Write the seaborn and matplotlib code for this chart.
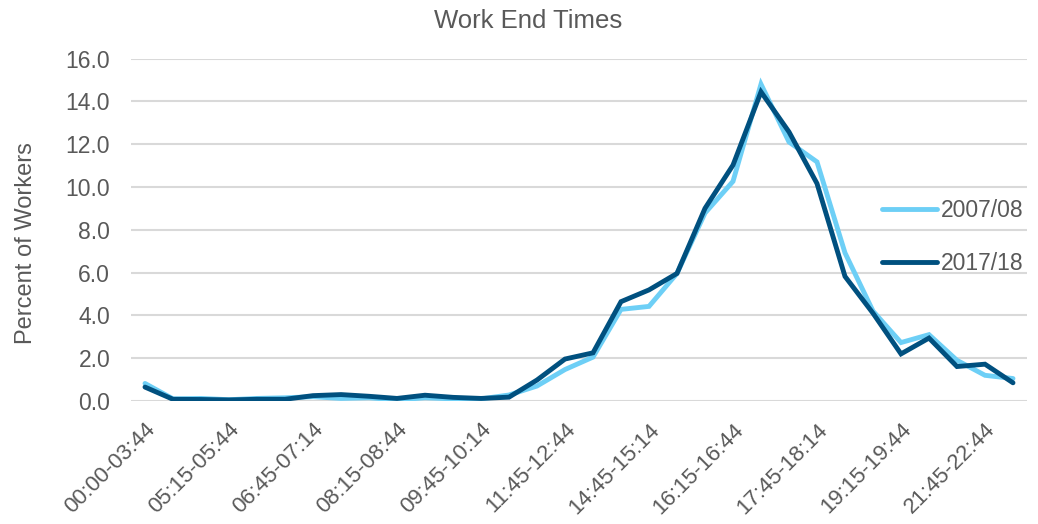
import matplotlib
matplotlib.use("Agg")
import matplotlib.pyplot as plt
import seaborn as sns
import pandas as pd

categories = [
    "00:00-03:44", "03:45-04:44", "04:45-05:14", "05:15-05:44", "05:45-06:14",
    "06:15-06:44", "06:45-07:14", "07:15-07:44", "07:45-08:14", "08:15-08:44",
    "08:45-09:14", "09:15-09:44", "09:45-10:14", "10:15-10:44", "10:45-11:44",
    "11:45-12:44", "12:45-13:44", "13:45-14:44", "14:45-15:14", "15:15-15:44",
    "15:45-16:14", "16:15-16:44", "16:45-17:14", "17:15-17:44", "17:45-18:14",
    "18:15-18:44", "18:45-19:14", "19:15-19:44", "19:45-20:44", "20:45-21:44",
    "21:45-22:44", "22:45-23:59",
]
series_2007 = [0.82, 0.10, 0.12, 0.06, 0.12, 0.15, 0.20, 0.12, 0.15, 0.05,
               0.15, 0.10, 0.10, 0.28, 0.70, 1.47, 2.05, 4.28, 4.42, 5.96,
               8.78, 10.26, 14.80, 12.10, 11.17, 6.92, 4.20, 2.73, 3.10, 1.90,
               1.20, 1.05]
series_2017 = [0.65, 0.08, 0.07, 0.05, 0.08, 0.08, 0.25, 0.30, 0.22, 0.12,
               0.27, 0.17, 0.12, 0.18, 0.98, 1.96, 2.25, 4.64, 5.19, 5.96,
               9.00, 11.02, 14.44, 12.57, 10.16, 5.82, 4.10, 2.20, 2.94, 1.61,
               1.72, 0.85]
series_names = ["2007/08", "2017/18"]
yticks = [0, 2, 4, 6, 8, 10, 12, 14, 16]

df = pd.DataFrame({
    "pos": list(range(len(categories))) * 2,
    "Time": categories * 2,
    "Percent": series_2007 + series_2017,
    "Year": [series_names[0]] * len(categories) + [series_names[1]] * len(categories),
})

sns.set_theme(style="white")
plt.rcParams["font.family"] = ["Liberation Sans", "DejaVu Sans"]
text_color = "#595959"

fig = plt.figure(figsize=(10.38, 5.24), dpi=100)
ax = fig.add_axes([131 / 1038, 1 - 401 / 524, (1027 - 131) / 1038, (401 - 58.5) / 524])

sns.lineplot(data=df, x="pos", y="Percent", hue="Year", sort=False,
             palette={"2007/08": "#6DCFF6", "2017/18": "#00507F"},
             linewidth=3.5, ax=ax, legend=True)
for ln in ax.get_lines():
    ln.set_solid_capstyle("round")
    ln.set_solid_joinstyle("miter")

ax.set_xlim(-0.5, len(categories) - 0.5)
ax.set_ylim(0, 16)
ax.set_yticks(yticks)
ax.set_yticklabels([f"{v:.1f}" for v in yticks], fontsize=16.5, color=text_color)
ax.yaxis.grid(True, color="#D9D9D9", linewidth=1.5)
ax.xaxis.grid(False)
ax.set_axisbelow(True)
idx = list(range(0, len(categories), 3))
ax.set_xticks(idx)
ax.set_xticklabels([categories[i] for i in idx], rotation=45, ha="right",
                   rotation_mode="anchor", fontsize=16, color=text_color)
ax.tick_params(axis="x", length=0, pad=13)
ax.tick_params(axis="y", length=0, pad=15)
for s in ax.spines.values():
    s.set_visible(False)
ax.set_xlabel("")
ax.set_ylabel("Percent of Workers", fontsize=17, color=text_color)
ax.yaxis.set_label_coords(-0.105, 0.461)

fig.text(528 / 1038, 1 - 21 / 524, "Work End Times", ha="center", va="center",
         fontsize=18.5, color=text_color)

handles, labels = ax.get_legend_handles_labels()
ax.legend(handles, labels, loc="center left", bbox_to_anchor=(861 / 1038, 1 - 237 / 524),
          bbox_transform=fig.transFigure, frameon=False, fontsize=16.5,
          handlelength=2.4, handletextpad=0.2, labelspacing=1.35, labelcolor=text_color)

fig.savefig("out.png", dpi=100)
